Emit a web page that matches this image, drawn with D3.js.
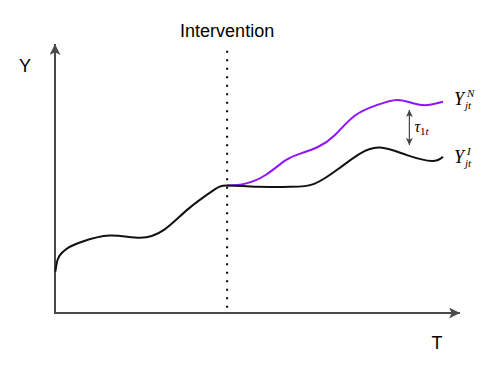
<!DOCTYPE html>
<html>
<head>
<meta charset="utf-8">
<script src="https://cdn.jsdelivr.net/npm/d3@7"></script>
<style>
  body { margin: 0; background: #fff; }
  svg { display: block; }
</style>
</head>
<body>
<div id="chart"></div>
<script>
// values, T and Y both on a 0-100 scale
const observedT = [0.1, 0.6, 1.6, 3.4, 6.5, 13.5, 21, 27, 33, 39, 42.5, 50, 58, 64, 70, 75, 80.2, 86.9, 93.1, 95.8];
const observedY = [15.4, 19.6, 22.2, 24.4, 26.4, 28.8, 28.0, 31.0, 38.8, 45.5, 47.4, 46.9, 46.9, 48.0, 53.6, 59.0, 61.5, 58.7, 56.5, 58.1];
const counterT = [42.5, 47, 52, 57, 61, 65, 69, 74, 79.5, 84.4, 88.4, 91.9, 95.8];
const counterY = [47.4, 48.1, 51.3, 56.8, 59.5, 61.8, 66.0, 73.3, 77.3, 79.2, 78.0, 77.3, 78.5];
const interventionT = 42.5;
const gapT = 87.5;           // where the tau arrow sits
const gapRange = [75.5, 62.5];

const width = 500, height = 369;

const x = d3.scaleLinear().domain([0, 100]).range([55, 460]);
const y = d3.scaleLinear().domain([0, 100]).range([313, 44]);

const svg = d3.select("#chart").append("svg")
    .attr("width", width)
    .attr("height", height);

const defs = svg.append("defs");
defs.append("marker")
    .attr("id", "axisHead")
    .attr("viewBox", "0 0 10 10")
    .attr("refX", 10).attr("refY", 5)
    .attr("markerUnits", "userSpaceOnUse")
    .attr("markerWidth", 13).attr("markerHeight", 11)
    .attr("orient", "auto")
    .append("path").attr("d", "M0,0L10,5L0,10L2.5,5Z").attr("fill", "#4a4a4a");
defs.append("marker")
    .attr("id", "gapHead")
    .attr("viewBox", "0 0 10 10")
    .attr("refX", 10).attr("refY", 5)
    .attr("markerUnits", "userSpaceOnUse")
    .attr("markerWidth", 7).attr("markerHeight", 7)
    .attr("orient", "auto-start-reverse")
    .append("path").attr("d", "M0,0L10,5L0,10L2.5,5Z").attr("fill", "#444");

// axes: no ticks, only the domain line with an arrow
const xAxisG = svg.append("g")
    .attr("transform", `translate(0,${y(0)})`)
    .call(d3.axisBottom(x).tickValues([]).tickSizeOuter(0));
const yAxisG = svg.append("g")
    .attr("transform", `translate(${x(0)},0)`)
    .call(d3.axisLeft(y).tickValues([]).tickSizeOuter(0));
[xAxisG, yAxisG].forEach(g => g.select(".domain")
    .attr("stroke", "#4a4a4a")
    .attr("stroke-width", 2)
    .attr("marker-end", "url(#axisHead)"));
yAxisG.select(".domain").attr("d", `M0,${y(0) + 1}V${y(100)}`);
xAxisG.select(".domain").attr("d", `M${x(0) - 1},0H${x(100)}`);

// intervention
svg.append("line")
    .attr("x1", x(interventionT)).attr("x2", x(interventionT))
    .attr("y1", y(97.5)).attr("y2", y(0))
    .attr("stroke", "#000")
    .attr("stroke-width", 2)
    .attr("stroke-dasharray", "2,6.5");

svg.append("text")
    .attr("x", x(interventionT)).attr("y", 37)
    .attr("text-anchor", "middle")
    .attr("font-family", "Liberation Sans, Arial, sans-serif")
    .attr("font-size", 18)
    .text("Intervention");

// curves
const line = d3.line()
    .x(d => x(d[0]))
    .y(d => y(d[1]))
    .curve(d3.curveNatural);

svg.append("path")
    .datum(counterT.map((t, i) => [t, counterY[i]]))
    .attr("d", line)
    .attr("fill", "none")
    .attr("stroke", "#9013fe")
    .attr("stroke-width", 2);

svg.append("path")
    .datum(observedT.map((t, i) => [t, observedY[i]]))
    .attr("d", line)
    .attr("fill", "none")
    .attr("stroke", "#111")
    .attr("stroke-width", 2);

// gap arrow
svg.append("line")
    .attr("x1", x(gapT)).attr("x2", x(gapT))
    .attr("y1", y(gapRange[0])).attr("y2", y(gapRange[1]))
    .attr("stroke", "#444")
    .attr("stroke-width", 1.2)
    .attr("marker-start", "url(#gapHead)")
    .attr("marker-end", "url(#gapHead)");

const serif = "Liberation Serif, Times New Roman, serif";
const tau = svg.append("text")
    .attr("x", x(gapT) + 5).attr("y", 132)
    .attr("font-family", serif)
    .attr("font-style", "italic")
    .attr("font-size", 16);
tau.append("tspan").text("τ");
tau.append("tspan").attr("font-size", 11).attr("font-style", "normal").attr("dy", 3).text("1");
tau.append("tspan").attr("font-size", 11).text("t");

// series labels
function seriesLabel(yPos, sup) {
    const g = svg.append("g").attr("font-family", serif).attr("font-style", "italic");
    g.append("text").attr("x", 454).attr("y", yPos).attr("font-size", 18).text("Y");
    g.append("text").attr("x", 465).attr("y", yPos + 4).attr("font-size", 11).text("jt");
    g.append("text").attr("x", 467).attr("y", yPos - 8).attr("font-size", 11).text(sup);
}
seriesLabel(105, "N");
seriesLabel(163, "I");

// axis names
svg.append("text")
    .attr("x", 25).attr("y", 72)
    .attr("text-anchor", "middle")
    .attr("font-family", "Liberation Sans, Arial, sans-serif")
    .attr("font-size", 18)
    .text("Y");
svg.append("text")
    .attr("x", 437).attr("y", 349)
    .attr("text-anchor", "middle")
    .attr("font-family", "Liberation Sans, Arial, sans-serif")
    .attr("font-size", 18)
    .text("T");
</script>
</body>
</html>
